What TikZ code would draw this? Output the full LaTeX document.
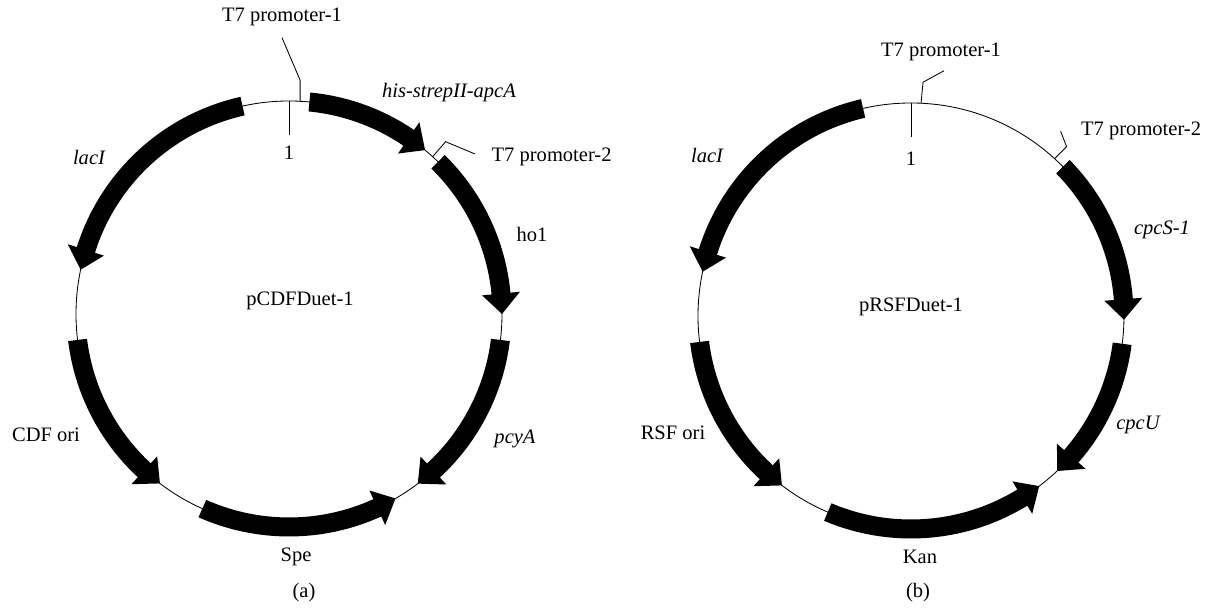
\documentclass[tikz,border=0pt]{standalone}
\usepackage{fontspec}
\setmainfont{Liberation Serif}
\usetikzlibrary{calc, positioning}

% radii of a gene arrow (backbone at 213)
\newcommand{\genrout}{222.5}
\newcommand{\genrin}{203.5}
\newcommand{\genrmid}{213}
\newcommand{\genrhout}{232}
\newcommand{\genrhin}{194}
% #1 centre, #2 start angle, #3 head base angle, #4 tip angle
\newcommand{\genearc}[4]{%
  \fill[gene] ($(#1)+(#2:\genrout)$) arc[start angle=#2, end angle=#3, radius=\genrout]
    -- ($(#1)+(#3:\genrhout)$) -- ($(#1)+(#4:\genrmid)$) -- ($(#1)+(#3:\genrhin)$)
    -- ($(#1)+(#3:\genrin)$) arc[start angle=#3, end angle=#2, radius=\genrin] -- cycle;}

\begin{document}
\begin{tikzpicture}[
    x=0.025cm, y=0.025cm,
    font=\fontsize{14.6}{17}\selectfont,
    backbone/.style={draw=black, line width=0.6pt},
    gene/.style={fill=black},
    marker/.style={draw=black, line width=0.6pt},
    lbl/.style={inner sep=1pt},
    genelbl/.style={inner sep=1pt, font=\fontsize{14.6}{17}\selectfont\itshape}
]
\useasboundingbox (0,0) rectangle (1212,615);

\coordinate (lc) at (289,301);
\coordinate (rc) at (911,299);

% ---- (a) pCDFDuet-1 ----
\draw[backbone] (lc) circle[radius=213];

\genearc{lc}{84.5}{55.8}{50.3}
\genearc{lc}{45.6}{5.5}{0}
\genearc{lc}{-7}{-47.3}{-52.8}
\genearc{lc}{-114}{-65.5}{-60}
\genearc{lc}{187}{227.2}{232.7}
\genearc{lc}{102.6}{162.5}{168}

\coordinate (lorigin) at ($(lc)+(90:213)$);
\coordinate (lprom1) at ($(lc)+(87:213)$);
\coordinate (lprom2) at ($(lc)+(47.6:213)$);

\node[lbl] (lt7a) at (282,598) {T7 promoter-1};
\node[lbl] (lone) at (289,462) {1};
\node[genelbl] (lapcA) at (449,522) {his-strepII-apcA};
\node[lbl, anchor=west] (lt7b) at (490,458) {T7 promoter-2};
\node[lbl] (lho) at (532,381) {ho1};
\node[genelbl] (lpcyA) at (515,176) {pcyA};
\node[lbl] (lspe) at (296,58) {Spe};
\node[lbl] (lcdf) at (46,180) {CDF ori};
\node[genelbl] (llacI) at (89,458) {lacI};
\node[lbl] (lname) at (300,314) {pCDFDuet-1};
\node[lbl] (lcap) at (304,22) {(a)};

\draw[marker] (lorigin) -- ++(0,-34);
\draw[marker] (lprom1) -- ++(0,21) -- ($(lt7a.south)+(0,-10)$);
\draw[marker] (lprom2) -- ++(13,15) -- ($(lt7b.west)+(-15,3)$);

% ---- (b) pRSFDuet-1 ----
\draw[backbone] (rc) circle[radius=213];

\genearc{rc}{103}{162.5}{168}
\genearc{rc}{187}{227.2}{232.7}
\genearc{rc}{-113}{-58.5}{-53}
\genearc{rc}{-7.5}{-41.2}{-46.7}
\genearc{rc}{44.5}{4.5}{-1}

\coordinate (rorigin) at ($(rc)+(90:213)$);
\coordinate (rprom1) at ($(rc)+(87.3:213)$);
\coordinate (rprom2) at ($(rc)+(47.6:213)$);

\node[lbl] (rt7a) at (941,563) {T7 promoter-1};
\node[lbl] (rone) at (911,456) {1};
\node[lbl, anchor=west] (rt7b) at (1079.5,484) {T7 promoter-2};
\node[genelbl] (rlacI) at (707,460) {lacI};
\node[genelbl] (rcpcS) at (1162,385) {cpcS-1};
\node[lbl] (rname) at (911,308) {pRSFDuet-1};
\node[lbl] (rrsf) at (673,182) {RSF ori};
\node[genelbl] (rcpcU) at (1138,190) {cpcU};
\node[lbl] (rkan) at (920,58) {Kan};
\node[lbl] (rcap) at (918,22) {(b)};

\draw[marker] (rorigin) -- ++(0,-34);
\draw[marker] (rprom1) -- ++(2,21) -- ++(21,11.5);
\draw[marker] (rprom2) -- ++(12,12) -- ++(-6,15.5);

\end{tikzpicture}
\end{document}
